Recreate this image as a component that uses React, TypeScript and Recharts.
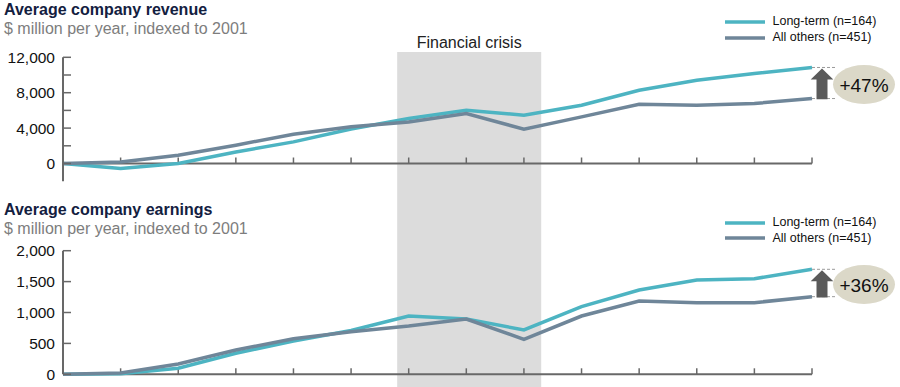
import React from 'react';
import { LineChart, Line, XAxis, YAxis, ReferenceArea, ReferenceLine, Legend } from 'recharts';

const years = [2001, 2002, 2003, 2004, 2005, 2006, 2007, 2008, 2009, 2010, 2011, 2012, 2013, 2014];
const revenueLongTerm = [0, -560, 0, 1300, 2440, 3900, 5080, 6020, 5460, 6590, 8280, 9410, 10170, 10850];
const revenueOthers = [0, 180, 940, 2070, 3310, 4150, 4700, 5650, 3880, 5270, 6700, 6590, 6780, 7340];
const earningsLongTerm = [0, 10, 97, 340, 539, 710, 943, 895, 717, 1094, 1364, 1526, 1547, 1699];
const earningsOthers = [0, 20, 167, 393, 576, 690, 782, 895, 566, 943, 1186, 1159, 1159, 1256];

const revenueTicks = [0, 2000, 4000, 6000, 8000, 10000, 12000];
const revenueLabelled = [0, 4000, 8000, 12000];
const earningsTicks = [0, 500, 1000, 1500, 2000];
const earningsLabelled = [0, 500, 1000, 1500, 2000];

const seriesNames = ['Long-term (n=164)', 'All others (n=451)'];
const growthLabels = ['+47%', '+36%'];
const crisisStart = 2006.8;
const crisisEnd = 2009.3;
const crisisLabel = 'Financial crisis';

const FONT = 'Arial, "Liberation Sans", Helvetica, sans-serif';
const TEAL = '#4db4c2';
const GRAY = '#6f8699';
const AXIS = '#686868';
const BAND = '#dcdcdc';

const makeYTick = (labelled: number[]) => (p: any) => {
  const { x, y, payload } = p;
  const v = payload.value;
  return (
    <g>
      <line x1={x} x2={x + 8} y1={y} y2={y} stroke={AXIS} strokeWidth={1.5} />
      {labelled.includes(v) && (
        <text x={x - 8} y={y} dy="0.36em" textAnchor="end" fontSize={15.5} fill="#111" fontFamily={FONT}>
          {v.toLocaleString('en-US')}
        </text>
      )}
    </g>
  );
};

const xTickShape = (p: any) => (
  <line x1={p.x1} x2={p.x1} y1={p.y1} y2={p.y1 - 6} stroke={AXIS} strokeWidth={1.5} />
);

const makeGrowthShape = (label: string) => (p: any) => {
  const { x1, y1, y2 } = p;
  const x = x1;
  const yTop = Math.min(y1, y2);
  const yBot = Math.max(y1, y2);
  const cx = x + 10;
  const hh = 11.3;
  const sh = 5.5;
  const tipY = yTop + 1;
  const headBase = yTop + 12;
  const bottom = yBot + 0.7;
  const pts = `${cx},${tipY} ${cx + hh},${headBase} ${cx + sh},${headBase} ${cx + sh},${bottom} ${cx - sh},${bottom} ${cx - sh},${headBase} ${cx - hh},${headBase}`;
  const ey = (yTop + yBot) / 2 + 1.5;
  return (
    <g>
      <line x1={x} x2={x + 24} y1={yTop} y2={yTop} stroke="#9a9a9a" strokeWidth={1} strokeDasharray="3 2" />
      <line x1={x} x2={x + 24} y1={yBot} y2={yBot} stroke="#9a9a9a" strokeWidth={1} strokeDasharray="3 2" />
      <polygon points={pts} fill="#5a5a5a" />
      <ellipse cx={x + 52} cy={ey} rx={31} ry={19.5} fill="#dbd8c8" />
      <text x={x + 52} y={ey + 7.5} textAnchor="middle" fontSize={19} fill="#111" fontFamily={FONT}>
        {label}
      </text>
    </g>
  );
};

const LegendContent = (props: any) => {
  const payload = [...(props.payload || [])].sort(
    (a: any, b: any) => seriesNames.indexOf(a.value) - seriesNames.indexOf(b.value)
  );
  return (
    <div style={{ fontFamily: FONT, fontSize: 12.5, color: '#111' }}>
      {payload.map((e: any, i: number) => (
        <div key={i} style={{ display: 'flex', alignItems: 'center', height: 15.8, whiteSpace: 'nowrap' }}>
          <svg width={40} height={4} style={{ display: 'block' }}>
            <line x1={0} x2={40} y1={2} y2={2} stroke={e.color} strokeWidth={3.5} />
          </svg>
          <span style={{ marginLeft: 7.5, lineHeight: '15.8px' }}>{e.value}</span>
        </div>
      ))}
    </div>
  );
};

interface PanelProps {
  longTerm: number[];
  others: number[];
  domain: [number, number];
  ticks: number[];
  labelled: number[];
  height: number;
  marginTop: number;
  marginBottom: number;
  bandY: [number, number];
  showCrisisLabel: boolean;
  growth: string;
  legendTop: number;
}

const Panel = (pp: PanelProps) => {
  const data = years.map((yr, i) => ({ year: yr, longTerm: pp.longTerm[i], others: pp.others[i] }));
  const last = years.length - 1;
  return (
    <LineChart
      width={900}
      height={pp.height}
      data={data}
      margin={{ top: pp.marginTop, right: 88, bottom: pp.marginBottom, left: 0 }}
    >
      <XAxis dataKey="year" type="number" domain={[years[0], years[last]]} hide />
      <YAxis
        type="number"
        domain={pp.domain}
        ticks={pp.ticks}
        interval={0}
        width={63}
        tickLine={false}
        tickSize={0}
        tickMargin={0}
        axisLine={{ stroke: AXIS, strokeWidth: 2 }}
        tick={makeYTick(pp.labelled)}
      />
      <ReferenceArea
        x1={crisisStart}
        x2={crisisEnd}
        y1={pp.bandY[0]}
        y2={pp.bandY[1]}
        fill={BAND}
        fillOpacity={1}
        stroke="none"
        ifOverflow="visible"
        label={
          pp.showCrisisLabel
            ? { value: crisisLabel, position: 'top', offset: 4, fill: '#222', fontSize: 16, fontFamily: FONT }
            : undefined
        }
      />
      <ReferenceLine y={0} stroke={AXIS} strokeWidth={2} ifOverflow="visible" />
      {years.slice(1).map((yr) => (
        <ReferenceLine
          key={yr}
          segment={[{ x: yr, y: 0 }, { x: yr, y: 0 }]}
          shape={xTickShape}
          ifOverflow="visible"
        />
      ))}
      <Line
        type="linear"
        dataKey="longTerm"
        name={seriesNames[0]}
        stroke={TEAL}
        strokeWidth={3.5}
        dot={false}
        activeDot={false}
        isAnimationActive={false}
      />
      <Line
        type="linear"
        dataKey="others"
        name={seriesNames[1]}
        stroke={GRAY}
        strokeWidth={3.5}
        dot={false}
        activeDot={false}
        isAnimationActive={false}
      />
      <ReferenceLine
        segment={[{ x: years[last], y: pp.others[last] }, { x: years[last], y: pp.longTerm[last] }]}
        shape={makeGrowthShape(pp.growth)}
        ifOverflow="visible"
      />
      <Legend
        layout="vertical"
        align="center"
        verticalAlign="middle"
        content={LegendContent}
        wrapperStyle={{ top: pp.legendTop, left: 725, width: 170 }}
      />
    </LineChart>
  );
};

const titleStyle: React.CSSProperties = {
  position: 'absolute',
  left: 4,
  fontSize: 16,
  lineHeight: '16px',
  fontWeight: 'bold',
  color: '#13203f',
  whiteSpace: 'nowrap',
  fontFamily: FONT,
};
const subStyle: React.CSSProperties = {
  position: 'absolute',
  left: 4,
  fontSize: 16,
  lineHeight: '16px',
  color: '#7d7d7d',
  whiteSpace: 'nowrap',
  fontFamily: FONT,
};

export default function App() {
  return (
    <div style={{ position: 'absolute', left: 0, top: 0, width: 900, height: 387, background: '#fff', fontFamily: FONT, overflow: 'hidden' }}>
      <div style={{ position: 'absolute', left: 0, top: 0 }}>
        <Panel
          longTerm={revenueLongTerm}
          others={revenueOthers}
          domain={[-2000, 12000]}
          ticks={revenueTicks}
          labelled={revenueLabelled}
          height={192}
          marginTop={57.3}
          marginBottom={10.8}
          bandY={[-6000, 12600]}
          showCrisisLabel={true}
          growth={growthLabels[0]}
          legendTop={14}
        />
      </div>
      <div style={{ position: 'absolute', left: 0, top: 192 }}>
        <Panel
          longTerm={earningsLongTerm}
          others={earningsOthers}
          domain={[0, 2000]}
          ticks={earningsTicks}
          labelled={earningsLabelled}
          height={195}
          marginTop={58.7}
          marginBottom={12.7}
          bandY={[-1000, 5000]}
          showCrisisLabel={false}
          growth={growthLabels[1]}
          legendTop={22.8}
        />
      </div>
      <div style={{ ...titleStyle, top: 2 }}>Average company revenue</div>
      <div style={{ ...subStyle, top: 21 }}>$ million per year, indexed to 2001</div>
      <div style={{ ...titleStyle, top: 202 }}>Average company earnings</div>
      <div style={{ ...subStyle, top: 221 }}>$ million per year, indexed to 2001</div>
    </div>
  );
}
